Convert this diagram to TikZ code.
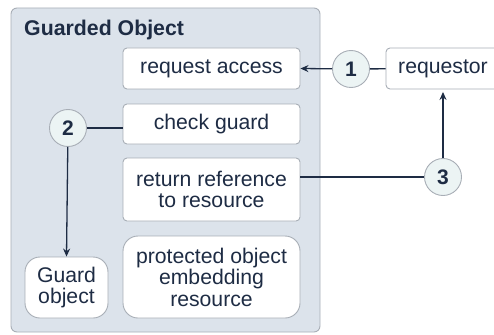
\documentclass[tikz,border=0pt]{standalone}
\usepackage{fontspec}
\setmainfont{Liberation Sans}
\usetikzlibrary{arrows.meta}
\definecolor{txt}{RGB}{30,44,68}
\definecolor{outerfill}{RGB}{220,227,235}
\definecolor{bordc}{RGB}{168,174,182}
\definecolor{circfill}{RGB}{236,244,244}
\tikzset{
  box/.style={draw=bordc, line width=0.9pt, fill=white, rounded corners=4pt, align=center, text=txt, inner sep=0pt, font=\fontsize{21.2}{21.5}\selectfont},
  roundbox/.style={box, rounded corners=15pt},
  num/.style={circle, draw=bordc, line width=0.9pt, fill=circfill, minimum size=37pt, inner sep=0pt, text=txt, font=\fontsize{21}{21.5}\selectfont\bfseries},
  conn/.style={draw=txt, line width=1.3pt},
  arr/.style={conn, -{Stealth[length=8pt,width=7pt]}},
}
\begin{document}
\begin{tikzpicture}[x=1pt,y=1pt]
\useasboundingbox (0,0) rectangle (494,-334);
\clip (0,0) rectangle (494,-334);
\node[draw=bordc, line width=0.9pt, fill=outerfill, rounded corners=6pt, minimum width=309pt, minimum height=324pt, inner sep=0pt] (outer) at (165.5,-170) {};
\node[anchor=base west, inner sep=0pt, text=txt, font=\fontsize{21.3}{22}\selectfont\bfseries] (title) at (24,-36) {Guarded Object};
\node[box, minimum width=177pt, minimum height=41pt] (req) at (211.5,-68.5) {request access};
\node[box, minimum width=177pt, minimum height=40pt] (check) at (211.5,-124) {check guard};
\node[box, minimum width=177pt, minimum height=63pt] (ret) at (211.5,-189.5) {return reference\\to resource};
\node[roundbox, minimum width=177pt, minimum height=82pt] (prot) at (211.5,-277) {protected object\\embedding\\resource};
\node[roundbox, minimum width=83pt, minimum height=61pt] (guard) at (66.5,-287.5) {Guard\\object};
\node[box, minimum width=114pt, minimum height=41pt] (reqr) at (443,-68.5) {requestor};
\node[num] (c1) at (351,-69) {1};
\node[num] (c2) at (68,-128) {2};
\node[num] (c3) at (443,-177) {3};
\draw[conn] (c1) -- (reqr);
\draw[arr] (c1) -- (req.east);
\draw[conn] (c2.east) -- (c2.east -| check.west);
\draw[arr] (c2) -- (guard.north);
\draw[conn] (c3.west -| ret.east) -- (c3.west);
\draw[arr, shorten >=2.5pt] (c3) -- (c3 |- reqr.south);
\end{tikzpicture}
\end{document}
